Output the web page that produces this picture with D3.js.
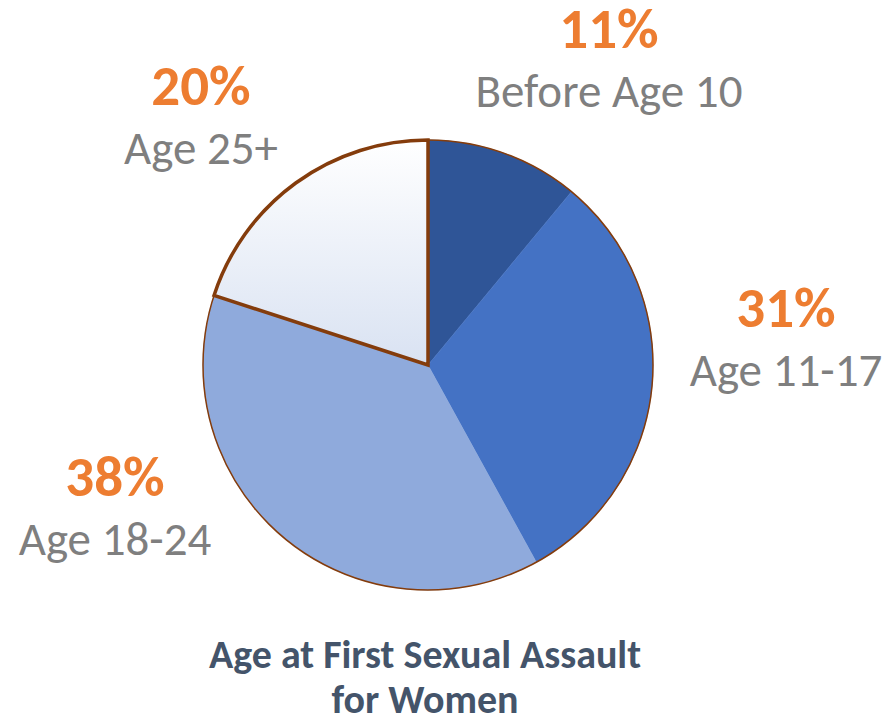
<!DOCTYPE html>
<html>
<head>
<meta charset="utf-8">
<script src="https://cdn.jsdelivr.net/npm/d3@7"></script>
<style>
  html, body { margin: 0; padding: 0; background: #fff; }
  svg { display: block; }
</style>
</head>
<body>
<div class="container"></div>
<script>
// Age at first sexual assault, pie

const categories = ["Before Age 10", "Age 11-17", "Age 18-24", "Age 25+"];
const shares = [11, 31, 38, 20];
const labelSpots = [[609, 48], [786, 327], [115, 496], [201, 105]]; // baseline of the % line
const sliceFills = ["#2F5597", "#4472C4", "#8FAADC", "url(#lightGrad)"];
const titleLines = ["Age at First Sexual Assault", "for Women"];

const width = 889, height = 718;
const cx = 428, cy = 365, radius = 225;
const font = "Carlito, Calibri, 'Liberation Sans Narrow', 'Open Sans', sans-serif";

const svg = d3.select(".container")
  .append("svg")
    .attr("width", width)
    .attr("height", height);

const grad = svg.append("defs")
  .append("linearGradient")
    .attr("id", "lightGrad")
    .attr("x1", 0).attr("y1", 0)
    .attr("x2", 0).attr("y2", 1);
grad.append("stop").attr("offset", "0%").attr("stop-color", "#FFFFFF");
grad.append("stop").attr("offset", "100%").attr("stop-color", "#D9E2F2");

const pie = d3.pie().sort(null).value(d => d);
const arcs = pie(shares);
const arc = d3.arc().innerRadius(0).outerRadius(radius);

const g = svg.append("g").attr("transform", `translate(${cx},${cy})`);

g.selectAll("path.slice")
  .data(arcs)
  .join("path")
    .attr("class", "slice")
    .attr("d", arc)
    .attr("fill", (d, i) => sliceFills[i])
    .attr("stroke", (d, i) => sliceFills[i].startsWith("#") ? sliceFills[i] : "none")
    .attr("stroke-width", 0.5);

// thin brown rim round the whole pie
g.append("circle")
  .attr("r", radius)
  .attr("fill", "none")
  .attr("stroke", "#843C0C")
  .attr("stroke-width", 1.5);

// the light slice carries a heavier outline
g.append("path")
  .attr("d", arc(arcs[3]))
  .attr("fill", "none")
  .attr("stroke", "#843C0C")
  .attr("stroke-width", 3.5)
  .attr("stroke-linejoin", "miter");

// labels
const labels = svg.append("g").attr("text-anchor", "middle").style("font-family", font);

labels.selectAll("text.pct")
  .data(arcs)
  .join("text")
    .attr("class", "pct")
    .attr("x", (d, i) => labelSpots[i][0])
    .attr("y", (d, i) => labelSpots[i][1])
    .style("font-size", "57px")
    .style("font-weight", "bold")
    .style("fill", "#ED7D31")
    .text(d => d3.format(".0f")(d.data) + "%");

labels.selectAll("text.cat")
  .data(arcs)
  .join("text")
    .attr("class", "cat")
    .attr("x", (d, i) => labelSpots[i][0])
    .attr("y", (d, i) => labelSpots[i][1] + 59)
    .style("font-size", "47px")
    .style("fill", "#7F7F7F")
    .text((d, i) => categories[i]);

svg.append("g")
  .attr("text-anchor", "middle")
  .style("font-family", font)
  .style("font-size", "40px")
  .style("font-weight", "bold")
  .style("fill", "#44546A")
  .selectAll("text")
  .data(titleLines)
  .join("text")
    .attr("x", 425)
    .attr("y", (d, i) => 668 + i * 45)
    .text(d => d);
</script>
</body>
</html>
